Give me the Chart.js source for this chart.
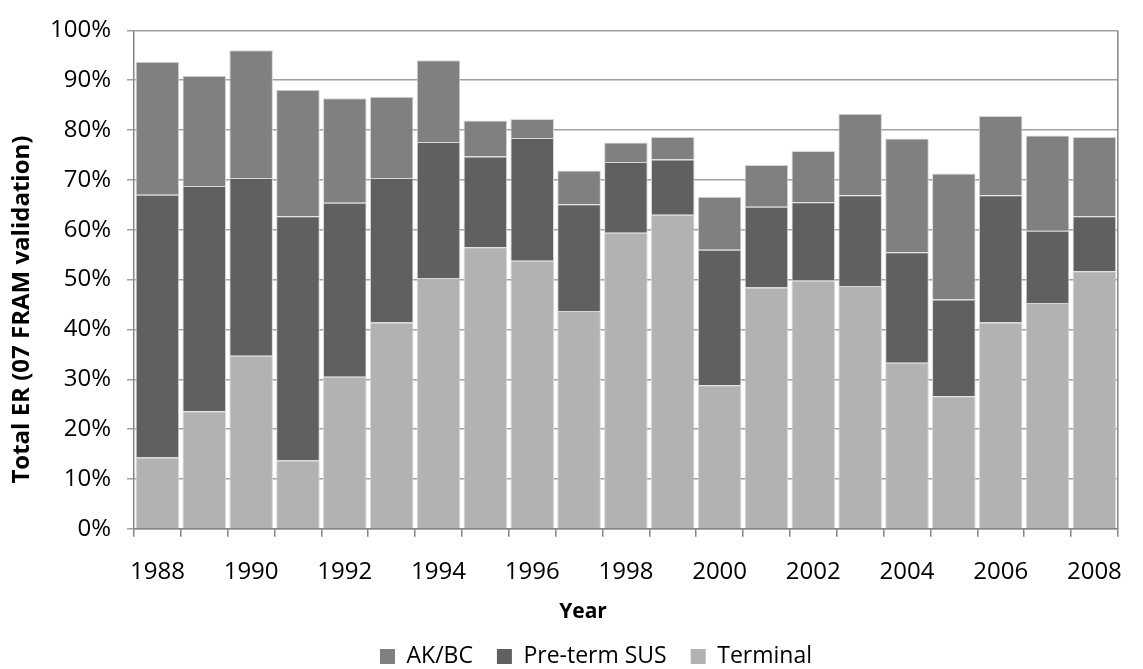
<!DOCTYPE html>
<html>
<head>
<meta charset="utf-8">
<title>Total ER by year</title>
<script src="https://cdn.jsdelivr.net/npm/chart.js@4/dist/chart.umd.min.js"></script>
<style>
  html, body { margin: 0; padding: 0; background: #ffffff; }
  #wrap { width: 1143px; height: 669px; position: relative; }
</style>
</head>
<body>
<div id="wrap"><canvas id="er"></canvas></div>
<script>
// Years on the category axis
const years = ['1988','1989','1990','1991','1992','1993','1994','1995','1996','1997',
               '1998','1999','2000','2001','2002','2003','2004','2005','2006','2007','2008'];

// Exploitation rate components (percent), stacked bottom to top
const terminal   = [14.3, 23.6, 34.7, 13.7, 30.5, 41.4, 50.3, 56.5, 53.8, 43.7,
                    59.4, 63.0, 28.8, 48.4, 49.8, 48.7, 33.3, 26.6, 41.4, 45.3, 51.7];
const pretermSUS = [52.7, 45.2, 35.7, 49.0, 34.9, 29.0, 27.3, 18.2, 24.6, 21.4,
                    14.2, 11.1, 27.2, 16.2, 15.7, 18.2, 22.2, 19.4, 25.5, 14.5, 11.0];
const akbc       = [26.7, 22.1, 25.6, 25.4, 21.0, 16.3, 16.4,  7.2,  3.8,  6.8,
                     3.9,  4.5, 10.6,  8.4, 10.3, 16.4, 22.8, 25.3, 15.9, 19.1, 15.9];

// Y axis tick values (percent)
const yTicks = [0, 10, 20, 30, 40, 50, 60, 70, 80, 90, 100];

const FONT = "'Open Sans', 'Liberation Sans', sans-serif";
const AXIS_GREY = '#868686';
const GRID_GREY = '#a0a0a0';

// Closes the plot frame on the right-hand side
const rightFrame = {
  id: 'rightFrame',
  afterDatasetsDraw(chart) {
    const { ctx, chartArea: a } = chart;
    ctx.save();
    ctx.strokeStyle = AXIS_GREY;
    ctx.lineWidth = 1.5;
    ctx.beginPath();
    ctx.moveTo(a.right, a.top);
    ctx.lineTo(a.right, a.bottom);
    ctx.stroke();
    ctx.restore();
  }
};

// Nudges the title/legend blocks below the plot to the right,
// and the vertical axis title a little downwards
const nudgeBlocks = {
  id: 'nudgeBlocks',
  afterLayout(chart) {
    const lg = chart.legend;
    if (lg) { lg.left += 28; lg.right += 28; }
    const tb = chart.titleBlock;
    if (tb) { tb.left += 15; tb.right += 15; }
    const ys = chart.scales.y;
    if (ys && !ys._titleNudged) {
      const drawTitle = ys.drawTitle.bind(ys);
      ys.drawTitle = function () {
        this.ctx.save();
        this.ctx.translate(0, 30);
        drawTitle();
        this.ctx.restore();
      };
      ys._titleNudged = true;
    }
  }
};

const segment = (label, data, color) => ({
  label, data,
  backgroundColor: color,
  borderColor: '#d6d6d6',
  borderWidth: 1,
  categoryPercentage: 1.0,
  barPercentage: 0.93
});

new Chart(document.getElementById('er'), {
  type: 'bar',
  data: {
    labels: years,
    datasets: [
      segment('Terminal', terminal, '#b2b2b2'),
      segment('Pre-term SUS', pretermSUS, '#606060'),
      segment('AK/BC', akbc, '#808080')
    ]
  },
  plugins: [rightFrame, nudgeBlocks],
  options: {
    responsive: true,
    maintainAspectRatio: false,
    animation: false,
    layout: { padding: { top: 24, right: 7, left: 0, bottom: -9 } },
    plugins: {
      tooltip: { enabled: false },
      title: {
        display: true,
        text: 'Year',
        position: 'bottom',
        weight: 500,
        color: '#000000',
        font: { family: FONT, size: 21, weight: 'bold' },
        padding: { top: 13, bottom: -4 }
      },
      legend: {
        position: 'bottom',
        reverse: true,
        labels: {
          color: '#000000',
          font: { family: FONT, size: 23 },
          boxWidth: 15,
          boxHeight: 15,
          padding: 24,
          generateLabels(chart) {
            return Chart.defaults.plugins.legend.labels.generateLabels(chart)
              .map(item => Object.assign(item, { lineWidth: 0, strokeStyle: item.fillStyle }));
          }
        }
      }
    },
    scales: {
      x: {
        stacked: true,
        afterFit(scale) { scale.height = 58; },
        grid: {
          display: true,
          drawOnChartArea: false,
          drawTicks: true,
          tickLength: 8,
          color: AXIS_GREY,
          lineWidth: 1.5
        },
        border: { display: true, color: AXIS_GREY, width: 1.5 },
        ticks: {
          autoSkip: false,
          maxRotation: 0,
          padding: 21,
          color: '#000000',
          font: { family: FONT, size: 24 },
          callback(value, index) { return index % 2 === 0 ? years[index] : ''; }
        }
      },
      y: {
        stacked: true,
        min: 0,
        max: 100,
        afterBuildTicks(scale) { scale.ticks = yTicks.map(v => ({ value: v })); },
        afterFit(scale) { scale.width = 134; },
        grid: {
          color: GRID_GREY,
          lineWidth: 1.5,
          tickLength: 7
        },
        border: { display: true, color: AXIS_GREY, width: 1.5 },
        ticks: {
          padding: 16,
          color: '#000000',
          font: { family: FONT, size: 24 },
          callback(value) { return value + '%'; }
        },
        title: {
          display: true,
          text: 'Total ER (07 FRAM validation)',
          color: '#000000',
          font: { family: FONT, size: 24, weight: 'bold' },
          padding: { top: 8, bottom: 0 }
        }
      }
    }
  }
});
</script>
</body>
</html>
